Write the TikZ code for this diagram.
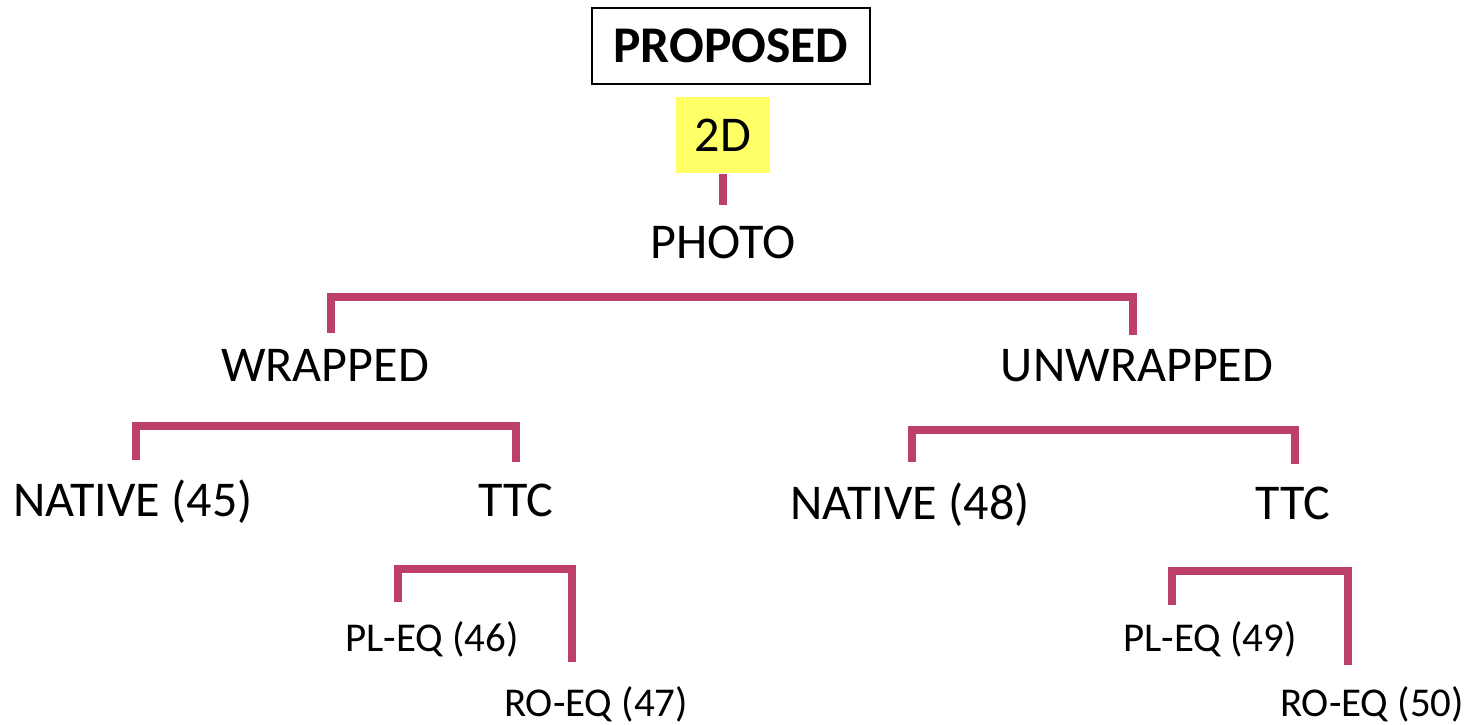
\documentclass[tikz,border=0pt]{standalone}
\usepackage{fontspec}
\setmainfont{Carlito}
\usepackage{tikz}
\usetikzlibrary{calc}
\definecolor{barred}{RGB}{190,64,106}
\definecolor{hiyellow}{RGB}{255,255,102}

\begin{document}
\begin{tikzpicture}[
  x=0.02cm, y=-0.02cm,
  lbl/.style={inner sep=0pt,text height=0.64cm,text depth=0pt,font=\fontsize{28.5}{30}\selectfont},
  slbl/.style={inner sep=0pt,text height=0.53cm,text depth=0pt,font=\fontsize{23.3}{25}\selectfont},
  titlebox/.style={draw,line width=1.1pt,minimum width=5.56cm,minimum height=1.52cm,font=\fontsize{29.3}{31}\selectfont\bfseries},
  hibox/.style={fill=hiyellow,minimum width=1.88cm,minimum height=1.54cm,font=\fontsize{28.5}{30}\selectfont},
  br/.style={draw=barred,line width=4.5pt}
]
\useasboundingbox (0,0) rectangle (1466,724);
\node[titlebox] (prop) at (731,46) {PROPOSED};
\node[hibox] (twod) at (723,135) {2D};
\node[lbl] (photo) at (723,242) {PHOTO};
\node[lbl] (wrap) at (325,365) {WRAPPED};
\node[lbl] (unwrap) at (1137,365) {UNWRAPPED};
\node[lbl] (nat45) at (133,500) {NATIVE (45)};
\node[lbl] (ttcw) at (516,500) {TTC};
\node[lbl] (nat48) at (910,503) {NATIVE (48)};
\node[lbl] (ttcu) at (1293,503) {TTC};
\node[slbl] (pl46) at (432,638) {PL-EQ (46)};
\node[slbl] (ro47) at (596,703) {RO-EQ (47)};
\node[slbl] (pl49) at (1210,638) {PL-EQ (49)};
\node[slbl] (ro50) at (1372,703) {RO-EQ (50)};
% brackets
\draw[br] (twod.south) -- ($(photo.north)+(0,-21)$);
\draw[br] ($(wrap.north)+(6,-16)$) |- ($(photo.south)+(0,39)$) -| ($(unwrap.north)+(-4,-14)$);
\draw[br] ($(nat45.north)+(3,-24)$) |- ($(wrap.south)+(0,45)$) -| ($(ttcw.north)+(0,-22)$);
\draw[br] ($(nat48.north)+(2,-25)$) |- ($(unwrap.south)+(0,49)$) -| ($(ttcu.north)+(2,-23)$);
\draw[br] ($(pl46.north)+(-34,-22)$) |- ($(ttcw.south)+(0,53)$) -| ($(ro47.north)+(-24,-27)$);
\draw[br] ($(pl49.north)+(-38,-19)$) |- ($(ttcu.south)+(0,52)$) -| ($(ro50.north)+(-24,-24)$);
\end{tikzpicture}
\end{document}
